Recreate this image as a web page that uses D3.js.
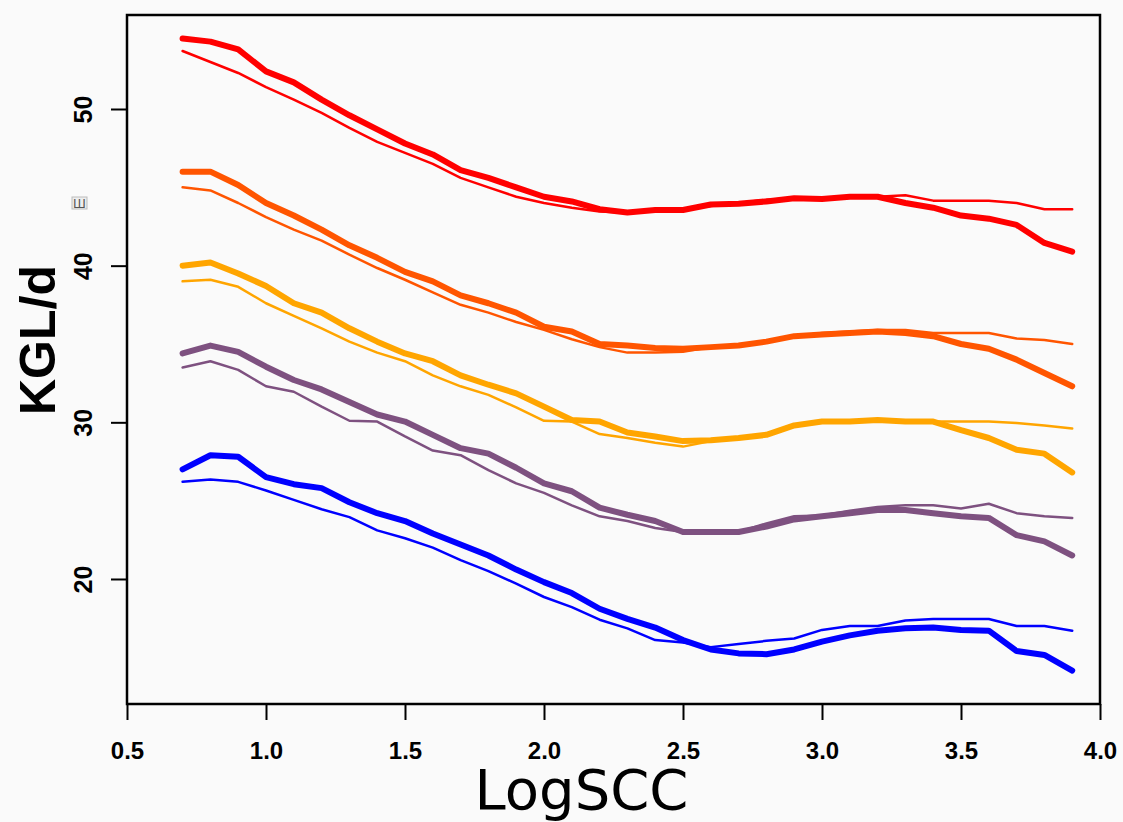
<!DOCTYPE html>
<html>
<head>
<meta charset="utf-8">
<script src="https://cdn.jsdelivr.net/npm/d3@7"></script>
<style>
  body { margin: 0; background: #fafafa; }
  svg { display: block; }
</style>
</head>
<body>
<script>
// x grid (LogSCC)
var logScc = [0.7, 0.8, 0.9, 1.0, 1.1, 1.2, 1.3, 1.4, 1.5, 1.6, 1.7, 1.8, 1.9, 2.0, 2.1, 2.2,
              2.3, 2.4, 2.5, 2.6, 2.7, 2.8, 2.9, 3.0, 3.1, 3.2, 3.3, 3.4, 3.5, 3.6, 3.7, 3.8, 3.9];

// KGL/d, thick and thin curve per group
var redThick = [54.5, 54.3, 53.8, 52.4, 51.7, 50.6, 49.6, 48.7, 47.8, 47.1, 46.1, 45.6, 45.0, 44.4, 44.1, 43.6,
                43.4, 43.55, 43.55, 43.9, 43.95, 44.1, 44.3, 44.25, 44.4, 44.4, 44.0, 43.7, 43.2, 43.0, 42.6, 41.45, 40.9];
var redThin = [53.7, 53.0, 52.3, 51.4, 50.6, 49.75, 48.8, 47.9, 47.2, 46.5, 45.6, 45.0, 44.4, 44.0, 43.7, 43.45,
               43.4, 43.6, 43.6, 43.8, 44.0, 44.2, 44.3, 44.3, 44.4, 44.4, 44.5, 44.15, 44.15, 44.15, 44.0, 43.6, 43.6];
var orangeRedThick = [46.0, 46.0, 45.15, 44.0, 43.2, 42.3, 41.3, 40.5, 39.6, 39.0, 38.1, 37.6, 37.0, 36.1, 35.8, 35.0,
                      34.9, 34.75, 34.7, 34.8, 34.9, 35.15, 35.5, 35.6, 35.7, 35.8, 35.7, 35.5, 35.0, 34.7, 34.0, 33.15, 32.3];
var orangeRedThin = [45.0, 44.8, 44.0, 43.1, 42.3, 41.6, 40.7, 39.85, 39.1, 38.3, 37.5, 37.0, 36.4, 35.9, 35.3, 34.8,
                     34.45, 34.45, 34.5, 34.8, 34.9, 35.15, 35.5, 35.7, 35.8, 35.9, 35.9, 35.7, 35.7, 35.7, 35.35, 35.25, 35.0];
var orangeThick = [40.0, 40.2, 39.5, 38.7, 37.6, 37.0, 36.0, 35.15, 34.4, 33.9, 33.0, 32.4, 31.85, 31.0, 30.15, 30.05,
                   29.35, 29.1, 28.8, 28.85, 29.0, 29.2, 29.8, 30.05, 30.05, 30.15, 30.05, 30.05, 29.5, 29.0, 28.25, 28.0, 26.8];
var orangeThin = [39.0, 39.1, 38.65, 37.6, 36.8, 36.0, 35.15, 34.45, 33.9, 33.0, 32.3, 31.75, 30.95, 30.1, 30.05, 29.25,
                  29.0, 28.7, 28.45, 28.8, 29.0, 29.2, 29.8, 30.05, 30.05, 30.15, 30.05, 30.05, 30.05, 30.05, 29.95, 29.8, 29.6];
var purpleThick = [34.4, 34.9, 34.5, 33.55, 32.7, 32.1, 31.3, 30.5, 30.05, 29.2, 28.35, 28.0, 27.1, 26.1, 25.6, 24.55,
                   24.1, 23.7, 23.0, 23.0, 23.0, 23.35, 23.8, 24.0, 24.2, 24.4, 24.4, 24.2, 24.0, 23.9, 22.8, 22.4, 21.5];
var purpleThin = [33.5, 33.9, 33.35, 32.3, 31.95, 31.0, 30.1, 30.05, 29.1, 28.2, 27.9, 26.95, 26.1, 25.5, 24.7, 24.0,
                  23.7, 23.25, 23.0, 23.0, 23.0, 23.55, 24.0, 24.05, 24.35, 24.6, 24.7, 24.7, 24.5, 24.8, 24.2, 24.0, 23.9];
var blueThick = [27.0, 27.9, 27.8, 26.5, 26.05, 25.8, 24.9, 24.2, 23.7, 22.9, 22.2, 21.5, 20.6, 19.8, 19.1, 18.1,
                 17.45, 16.9, 16.1, 15.5, 15.25, 15.2, 15.5, 16.0, 16.4, 16.7, 16.85, 16.9, 16.75, 16.7, 15.4, 15.15, 14.15];
var blueThin = [26.2, 26.35, 26.2, 25.65, 25.05, 24.45, 23.95, 23.1, 22.6, 22.0, 21.2, 20.5, 19.7, 18.85, 18.2, 17.4,
                16.85, 16.1, 15.95, 15.65, 15.85, 16.05, 16.2, 16.75, 17.0, 17.0, 17.35, 17.45, 17.45, 17.45, 17.0, 17.0, 16.7];

var xTicks = [0.5, 1.0, 1.5, 2.0, 2.5, 3.0, 3.5, 4.0];
var yTicks = [20, 30, 40, 50];

var groups = [
  {color: "#ff0000", thick: redThick, thin: redThin},
  {color: "#ff5500", thick: orangeRedThick, thin: orangeRedThin},
  {color: "#ffa500", thick: orangeThick, thin: orangeThin},
  {color: "#7e5180", thick: purpleThick, thin: purpleThin},
  {color: "#0000ff", thick: blueThick, thin: blueThin}
];

var width = 1123, height = 822;
var margin = {top: 15, right: 23, bottom: 118, left: 127};

var svg = d3.select("body").append("svg")
    .attr("width", width)
    .attr("height", height);

var x = d3.scaleLinear()
    .domain([0.5, 4.0])
    .range([margin.left, width - margin.right]);

var y = d3.scaleLinear()
    .domain([12.02, 56.0])
    .range([height - margin.bottom, margin.top]);

var line = d3.line()
    .x(function(d) { return x(d[0]); })
    .y(function(d) { return y(d[1]); });

function pairs(vals) {
  return logScc.map(function(v, i) { return [v, vals[i]]; });
}

var lines = svg.append("g").attr("class", "lines")
    .attr("fill", "none")
    .attr("stroke-linecap", "round")
    .attr("stroke-linejoin", "round");

groups.forEach(function(g) {
  lines.append("path")
      .attr("d", line(pairs(g.thick)))
      .attr("stroke", g.color)
      .attr("stroke-width", 6);
  lines.append("path")
      .attr("d", line(pairs(g.thin)))
      .attr("stroke", g.color)
      .attr("stroke-width", 2.5);
});

// box
svg.append("rect")
    .attr("x", x(0.5))
    .attr("y", y(56.0))
    .attr("width", x(4.0) - x(0.5))
    .attr("height", y(12.02) - y(56.0))
    .attr("fill", "none")
    .attr("stroke", "black")
    .attr("stroke-width", 2.5);

// x axis
var xAxis = svg.append("g")
    .attr("transform", "translate(0," + y(12.02) + ")")
    .call(d3.axisBottom(x).tickValues(xTicks).tickFormat(d3.format(".1f")).tickSize(16).tickPadding(22));
xAxis.select(".domain").remove();
xAxis.selectAll(".tick line").attr("stroke", "black").attr("stroke-width", 2);
xAxis.selectAll(".tick text")
    .attr("fill", "black")
    .style("font-family", "'Liberation Sans', Arial, sans-serif")
    .style("font-weight", "bold")
    .style("font-size", "24px");

// y axis
var yAxis = svg.append("g")
    .attr("transform", "translate(" + x(0.5) + ",0)")
    .call(d3.axisLeft(y).tickValues(yTicks).tickSize(16));
yAxis.select(".domain").remove();
yAxis.selectAll(".tick line").attr("stroke", "black").attr("stroke-width", 2);
yAxis.selectAll(".tick text")
    .attr("fill", "black")
    .attr("x", null)
    .attr("dy", null)
    .attr("text-anchor", "middle")
    .attr("transform", "translate(-35,0) rotate(-90)")
    .style("font-family", "'Liberation Sans', Arial, sans-serif")
    .style("font-weight", "bold")
    .style("font-size", "25px");

// small stray glyph by the y axis
svg.append("rect")
    .attr("x", 72).attr("y", 197)
    .attr("width", 15).attr("height", 12)
    .attr("fill", "#eeeeee")
    .attr("stroke", "#bbbbbb")
    .attr("stroke-width", 1);
svg.append("text")
    .attr("x", 79.5)
    .attr("y", 207.5)
    .attr("text-anchor", "middle")
    .attr("fill", "#555")
    .style("font-family", "DejaVu Sans, sans-serif")
    .style("font-size", "12px")
    .text("Ш");

// axis titles
svg.append("text")
    .attr("transform", "translate(55," + 340 + ") rotate(-90)")
    .attr("text-anchor", "middle")
    .style("font-family", "'Liberation Sans', Arial, sans-serif")
    .style("font-weight", "bold")
    .style("font-size", "50px")
    .text("KGL/d");

svg.append("text")
    .attr("x", (x(0.5) + x(4.0)) / 2 - 32)
    .attr("y", 809)
    .attr("text-anchor", "middle")
    .style("font-family", "'DejaVu Sans', sans-serif")
    .style("font-size", "56px")
    .text("LogSCC");
</script>
</body>
</html>
